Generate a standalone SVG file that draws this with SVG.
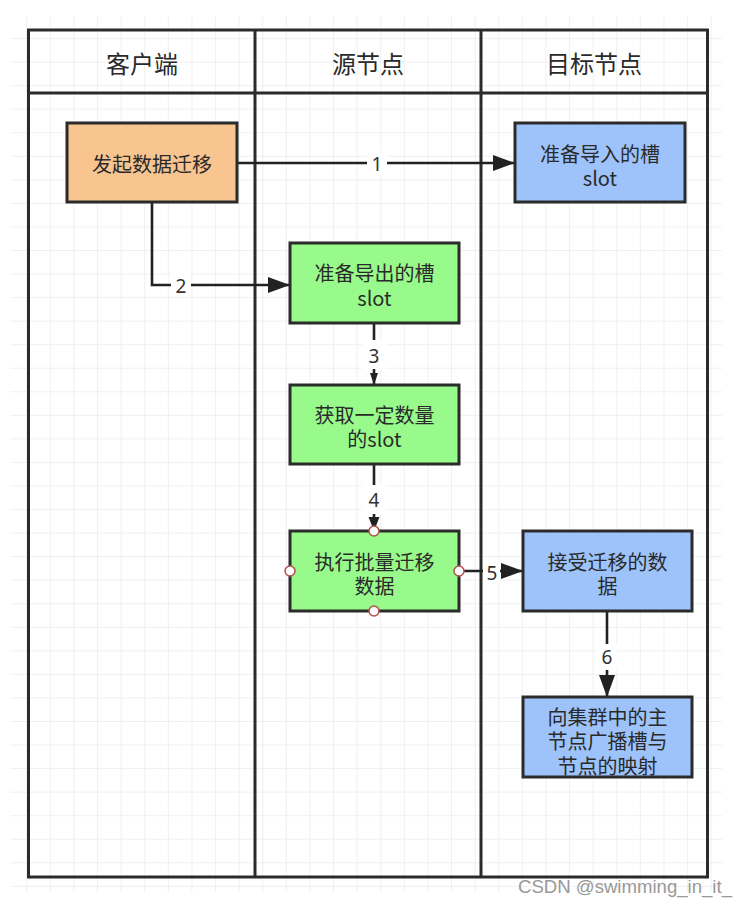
<svg xmlns="http://www.w3.org/2000/svg" width="746" height="905" viewBox="0 0 746 905">
<style>
.hdr{font-family:"Noto Sans CJK SC","Noto Sans",sans-serif;font-size:24px;fill:#2a2a2a;text-anchor:middle;dominant-baseline:central}
.txt{font-family:"Noto Sans CJK SC","Noto Sans",sans-serif;font-size:20px;fill:#2a2a2a;text-anchor:middle;dominant-baseline:central}
.lbl{font-family:"Noto Sans","Liberation Sans",sans-serif;font-size:19px;fill:#333;text-anchor:middle;dominant-baseline:central}
.box{stroke:#2b2b2b;stroke-width:3}
.orange{fill:#F8C48F}
.blue{fill:#9DC3FA}
.green{fill:#98FA8A}
.edge{fill:none;stroke:#222;stroke-width:2.6}
.pt{fill:#fff;stroke:#B5504A;stroke-width:1.5}
.frame{fill:none;stroke:#2b2b2b;stroke-width:3}
</style>
<defs>
<pattern id="grid" patternUnits="userSpaceOnUse" x="2.6" y="14.5" width="23.6" height="23.55">
<path d="M0 0 H23.6 M0 0 V23.55" fill="none" stroke="#e2e2e2" stroke-width="1"/>
</pattern>
<marker id="big" markerUnits="userSpaceOnUse" markerWidth="24" markerHeight="18" refX="22" refY="8" orient="auto">
<path d="M0 0 L22 8 L0 16 Z" fill="#222"/>
</marker>
<marker id="mid" markerUnits="userSpaceOnUse" markerWidth="16" markerHeight="12" refX="14" refY="5.5" orient="auto">
<path d="M0 0 L14 5.5 L0 11 Z" fill="#222"/>
</marker>
<marker id="small" markerUnits="userSpaceOnUse" markerWidth="14" markerHeight="10" refX="12" refY="4" orient="auto">
<path d="M0 0 L12 4 L0 8 Z" fill="#222"/>
</marker>
</defs>
<rect width="746" height="905" fill="#fff"/>
<rect x="10" y="16" width="712" height="876" fill="url(#grid)"/>

<g id="swimlanes">
<rect class="frame" x="28.5" y="30" width="679" height="847" fill="none"/>
<line class="frame" x1="28.5" y1="93" x2="707.5" y2="93"/>
<line class="frame" x1="255" y1="30" x2="255" y2="877"/>
<line class="frame" x1="481" y1="30" x2="481" y2="877"/>
<text class="hdr" x="142" y="62">客户端</text>
<text class="hdr" x="368" y="62">源节点</text>
<text class="hdr" x="594" y="62">目标节点</text>
</g>

<g id="connectors">
<path class="edge" d="M237 163 H515" marker-end="url(#big)"/>
<rect x="367" y="151" width="20" height="24" fill="#fff"/>
<text class="lbl" x="377" y="164">1</text>

<path class="edge" d="M152 202 V285 H290" marker-end="url(#big)"/>
<rect x="171" y="273" width="20" height="24" fill="#fff"/>
<text class="lbl" x="181" y="286">2</text>

<path class="edge" d="M374 323 V385" marker-end="url(#small)"/>
<rect x="362" y="340" width="24" height="29" fill="#fff"/>
<text class="lbl" x="374" y="356">3</text>

<path class="edge" d="M374 464 V531" marker-end="url(#mid)"/>
<rect x="362" y="485" width="24" height="29" fill="#fff"/>
<text class="lbl" x="374" y="500">4</text>

<path class="edge" d="M459 571 H523" marker-end="url(#big)"/>
<rect x="483" y="560" width="17" height="24" fill="#fff"/>
<text class="lbl" x="492" y="573">5</text>

<path class="edge" d="M607 610 V697" marker-end="url(#big)"/>
<rect x="597" y="644" width="20" height="26" fill="#fff"/>
<text class="lbl" x="607" y="657">6</text>
</g>

<g id="n1">
<rect class="box orange" x="67" y="123" width="170" height="79"/>
<text class="txt" x="152" y="163">发起数据迁移</text>
</g>
<g id="n2">
<rect class="box blue" x="515" y="123" width="170" height="79"/>
<text class="txt"><tspan x="600" y="153">准备导入的槽</tspan><tspan x="600" y="177">slot</tspan></text>
</g>
<g id="n3">
<rect class="box green" x="290" y="243" width="169" height="80"/>
<text class="txt"><tspan x="374.5" y="272">准备导出的槽</tspan><tspan x="374.5" y="297">slot</tspan></text>
</g>
<g id="n4">
<rect class="box green" x="290" y="385" width="169" height="79"/>
<text class="txt"><tspan x="374.5" y="414">获取一定数量</tspan><tspan x="374.5" y="438">的slot</tspan></text>
</g>
<g id="n5">
<rect class="box green" x="290" y="531" width="169" height="80"/>
<text class="txt"><tspan x="374.5" y="561">执行批量迁移</tspan><tspan x="374.5" y="585">数据</tspan></text>
<circle class="pt" cx="374" cy="531" r="5"/>
<circle class="pt" cx="290" cy="571" r="5"/>
<circle class="pt" cx="459" cy="571" r="5"/>
<circle class="pt" cx="374" cy="611" r="5"/>
</g>
<g id="n6">
<rect class="box blue" x="523" y="531" width="169" height="80"/>
<text class="txt"><tspan x="607.5" y="561">接受迁移的数</tspan><tspan x="607.5" y="585">据</tspan></text>
</g>
<g id="n7">
<rect class="box blue" x="523" y="697" width="169" height="80"/>
<text class="txt"><tspan x="607.5" y="716">向集群中的主</tspan><tspan x="607.5" y="740">节点广播槽与</tspan><tspan x="607.5" y="765">节点的映射</tspan></text>
</g>

<text x="518" y="893" font-family="'Liberation Sans Narrow','Liberation Sans',sans-serif" font-size="18" fill="#999" textLength="214" lengthAdjust="spacingAndGlyphs">CSDN @swimming_in_it_</text>
</svg>
